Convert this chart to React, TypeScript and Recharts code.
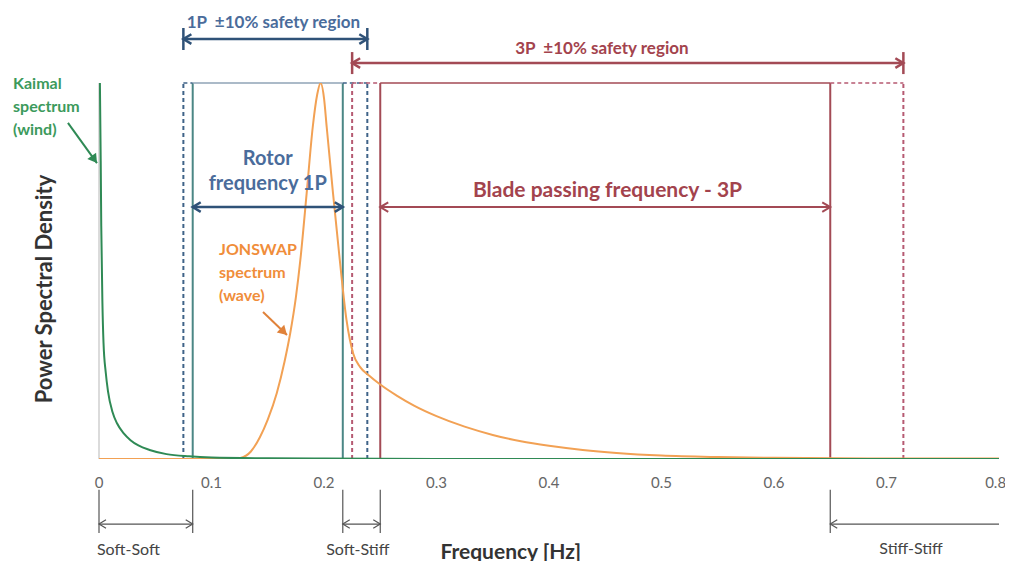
import React from "react";
import { LineChart, Line, XAxis, YAxis, ReferenceLine, ReferenceDot } from "recharts";

// frequency [Hz] vs normalised PSD
const kaimal = [
  { f: 0, v: 1.0 },
  { f: 0.0008, v: 1.0 },
  { f: 0.002, v: 0.62 },
  { f: 0.003, v: 0.42 },
  { f: 0.004, v: 0.31 },
  { f: 0.006, v: 0.23 },
  { f: 0.008, v: 0.18 },
  { f: 0.012, v: 0.125 },
  { f: 0.016, v: 0.095 },
  { f: 0.022, v: 0.068 },
  { f: 0.028, v: 0.05 },
  { f: 0.035, v: 0.036 },
  { f: 0.045, v: 0.024 },
  { f: 0.06, v: 0.013 },
  { f: 0.08, v: 0.007 },
  { f: 0.1, v: 0.004 },
  { f: 0.15, v: 0.002 },
  { f: 0.2, v: 0.001 },
  { f: 0.3, v: 0 },
  { f: 0.8, v: 0 },
];

const jonswap = [
  { f: 0, v: 0 },
  { f: 0.12, v: 0 },
  { f: 0.125, v: 0.002 },
  { f: 0.135, v: 0.02 },
  { f: 0.143, v: 0.058 },
  { f: 0.15, v: 0.105 },
  { f: 0.158, v: 0.175 },
  { f: 0.165, v: 0.26 },
  { f: 0.17, v: 0.335 },
  { f: 0.175, v: 0.43 },
  { f: 0.179, v: 0.53 },
  { f: 0.1846, v: 0.707 },
  { f: 0.19, v: 0.883 },
  { f: 0.194, v: 0.97 },
  { f: 0.197, v: 1.0 },
  { f: 0.2, v: 0.96 },
  { f: 0.2024, v: 0.883 },
  { f: 0.208, v: 0.707 },
  { f: 0.214, v: 0.53 },
  { f: 0.22, v: 0.37 },
  { f: 0.226, v: 0.28 },
  { f: 0.232, v: 0.245 },
  { f: 0.24, v: 0.222 },
  { f: 0.25, v: 0.198 },
  { f: 0.265, v: 0.168 },
  { f: 0.28, v: 0.142 },
  { f: 0.3, v: 0.114 },
  { f: 0.325, v: 0.086 },
  { f: 0.35, v: 0.064 },
  { f: 0.375, v: 0.047 },
  { f: 0.4, v: 0.035 },
  { f: 0.43, v: 0.024 },
  { f: 0.46, v: 0.016 },
  { f: 0.5, v: 0.009 },
  { f: 0.55, v: 0.005 },
  { f: 0.6, v: 0.003 },
  { f: 0.7, v: 0.0015 },
  { f: 0.8, v: 0.001 },
];

const xTicks = [0, 0.1, 0.2, 0.3, 0.4, 0.5, 0.6, 0.7, 0.8];

const oneP = [0.0833, 0.2167];
const onePSafety = [0.075, 0.2385];
const threeP = [0.25, 0.65];
const threePSafety = [0.225, 0.715];

const FONT = "Lato, 'Open Sans', sans-serif";
const NAVY = "#2f5278";
const BLUE_TXT = "#4a6c9b";
const TEAL = "#4b8785";
const BLUE_DASH = "#3f6388";
const RED = "#a34a55";
const RED_DASH = "#b65a72";
const RED_TXT = "#a3434d";
const GREEN = "#2f8a55";
const ORANGE = "#f2a154";
const GRAY = "#555";

type ArrowOpts = {
  color: string;
  width?: number;
  start?: boolean;
  end?: boolean;
  bar?: number;
  solidHead?: boolean;
  size?: number;
};

function arrowShape(o: ArrowOpts) {
  return (p: any) => {
    const { x1, y1, x2, y2 } = p;
    const w = o.width ?? 2;
    const s = o.size ?? 8;
    const dx = x2 - x1;
    const dy = y2 - y1;
    const len = Math.hypot(dx, dy) || 1;
    const ux = dx / len;
    const uy = dy / len;
    const nx = -uy;
    const ny = ux;
    const head = (tx: number, ty: number, dir: number) => {
      const bx = tx - dir * ux * s;
      const by = ty - dir * uy * s;
      const a = `${bx + nx * s * 0.6},${by + ny * s * 0.6}`;
      const b = `${bx - nx * s * 0.6},${by - ny * s * 0.6}`;
      return o.solidHead ? (
        <polygon points={`${a} ${tx},${ty} ${b}`} fill={o.color} />
      ) : (
        <polyline points={`${a} ${tx},${ty} ${b}`} fill="none" stroke={o.color} strokeWidth={w} strokeLinejoin="miter" />
      );
    };
    return (
      <g>
        <line x1={x1} y1={y1} x2={x2} y2={y2} stroke={o.color} strokeWidth={w} />
        {o.start && head(x1, y1, -1)}
        {o.end && head(x2, y2, 1)}
        {o.bar ? (
          <>
            <line x1={x1} y1={y1 - o.bar} x2={x1} y2={y1 + o.bar} stroke={o.color} strokeWidth={w} />
            <line x1={x2} y1={y2 - o.bar} x2={x2} y2={y2 + o.bar} stroke={o.color} strokeWidth={w} />
          </>
        ) : null}
      </g>
    );
  };
}

function arrow(key: string, a: [number, number], b: [number, number], o: ArrowOpts) {
  return (
    <ReferenceLine
      key={key}
      segment={[{ x: a[0], y: a[1] }, { x: b[0], y: b[1] }]}
      ifOverflow="visible"
      shape={arrowShape(o)}
    />
  );
}

function seg(key: string, a: [number, number], b: [number, number], color: string, width: number, dash?: string) {
  return (
    <ReferenceLine
      key={key}
      segment={[{ x: a[0], y: a[1] }, { x: b[0], y: b[1] }]}
      ifOverflow="visible"
      stroke={color}
      strokeWidth={width}
      strokeDasharray={dash}
    />
  );
}

type NoteOpts = {
  color: string;
  size: number;
  weight?: number | string;
  anchor?: "start" | "middle" | "end";
  lineGap?: number;
  rotate?: boolean;
};

function note(key: string, x: number, y: number, lines: string[], o: NoteOpts) {
  return (
    <ReferenceDot
      key={key}
      x={x}
      y={y}
      r={0}
      ifOverflow="visible"
      shape={(p: any) => (
        <text
          x={p.cx}
          y={p.cy}
          transform={o.rotate ? `rotate(-90 ${p.cx} ${p.cy})` : undefined}
          fill={o.color}
          fontSize={o.size}
          fontWeight={o.weight ?? "bold"}
          fontFamily={FONT}
          textAnchor={o.anchor ?? "middle"}
          dominantBaseline="central"
        >
          {lines.map((t, i) => (
            <tspan key={i} x={p.cx} dy={i === 0 ? 0 : o.lineGap ?? 23}>
              {t}
            </tspan>
          ))}
        </text>
      )}
    />
  );
}

export default function App() {
  return (
    <div style={{ width: 997, height: 553, background: "#fff" }}>
      <LineChart width={997} height={553} margin={{ top: 75, right: 6, left: 91, bottom: 72 }}>
        <XAxis
          dataKey="f"
          type="number"
          domain={[0, 0.8]}
          ticks={xTicks}
          tickFormatter={(v: number) => (v === 0 ? "0" : String(v))}
          axisLine={false}
          tickLine={false}
          tickMargin={12}
          height={30}
          tick={{ fill: "#666", fontSize: 15, fontFamily: FONT }}
          allowDataOverflow
        />
        <YAxis type="number" domain={[0, 1]} hide allowDataOverflow />

        <ReferenceLine x={0} stroke="#cfcfcf" strokeWidth={1.5} />

        {/* 1P and 3P lines */}
        {onePSafety.map((f, i) => (
          <ReferenceLine key={`ops${i}`} x={f} stroke={BLUE_DASH} strokeWidth={2} strokeDasharray="4 3" />
        ))}
        {oneP.map((f, i) => (
          <ReferenceLine key={`op${i}`} x={f} stroke={TEAL} strokeWidth={2} />
        ))}
        {threePSafety.map((f, i) => (
          <ReferenceLine key={`tps${i}`} x={f} stroke={RED_DASH} strokeWidth={2} strokeDasharray="4 3" />
        ))}
        {threeP.map((f, i) => (
          <ReferenceLine key={`tp${i}`} x={f} stroke={RED} strokeWidth={2} />
        ))}

        {/* box tops */}
        {seg("bt1", [onePSafety[0], 1], [oneP[0], 1], BLUE_DASH, 1.5, "4 3")}
        {seg("bt2", [oneP[0], 1], [oneP[1], 1], "#8fa3b6", 1.5)}
        {seg("bt3", [oneP[1], 1], [onePSafety[1], 1], BLUE_DASH, 1.5, "4 3")}
        {seg("rt1", [threePSafety[0], 1], [threeP[0], 1], RED_DASH, 1.5, "4 3")}
        {seg("rt2", [threeP[0], 1], [threeP[1], 1], RED, 1.5)}
        {seg("rt3", [threeP[1], 1], [threePSafety[1], 1], RED_DASH, 1.5, "4 3")}

        <Line
          data={jonswap}
          dataKey="v"
          type="monotone"
          stroke={ORANGE}
          strokeWidth={2}
          dot={false}
          activeDot={false}
          isAnimationActive={false}
        />
        <Line
          data={kaimal}
          dataKey="v"
          type="monotone"
          stroke={GREEN}
          strokeWidth={2}
          dot={false}
          activeDot={false}
          isAnimationActive={false}
        />

        {/* top safety arrows */}
        {arrow("a1p", [onePSafety[0], 1.117], [onePSafety[1], 1.117], { color: NAVY, width: 2.5, start: true, end: true, bar: 11 })}
        {arrow("a3p", [threePSafety[0], 1.053], [threePSafety[1], 1.053], { color: RED, width: 2.5, start: true, end: true, bar: 11 })}
        {note("t1p", 0.155, 1.165, ["1P\u00a0\u00a0\u00b110% safety region"], { color: BLUE_TXT, size: 17 })}
        {note("t3p", 0.447, 1.096, ["3P\u00a0\u00a0\u00b110% safety region"], { color: RED_TXT, size: 17 })}

        {/* inner arrows */}
        {arrow("ar", [oneP[0], 0.67], [oneP[1], 0.67], { color: NAVY, width: 2.5, start: true, end: true })}
        {arrow("ab", [threeP[0], 0.67], [threeP[1], 0.67], { color: RED, width: 2, start: true, end: true })}
        {note("trot", 0.15, 0.803, ["Rotor", "frequency 1P"], { color: BLUE_TXT, size: 20, lineGap: 25 })}
        {note("tblade", 0.452, 0.721, ["Blade passing frequency - 3P"], { color: RED_TXT, size: 21 })}

        {/* spectrum labels */}
        {note("tk", -0.0764, 1.003, ["Kaimal", "spectrum", "(wind)"], { color: "#3c9a5c", size: 16, anchor: "start" })}
        {arrow("ak", [-0.0276, 0.894], [-0.0018, 0.787], { color: GREEN, width: 2, end: true, solidHead: true, size: 9 })}
        {note("tj", 0.1067, 0.561, ["JONSWAP", "spectrum", "(wave)"], { color: "#f08d3a", size: 16, anchor: "start" })}
        {arrow("aj", [0.1458, 0.391], [0.1671, 0.33], { color: "#e0823a", width: 2, end: true, solidHead: true, size: 9 })}

        {/* axis titles */}
        {note("ty", -0.0498, 0.452, ["Power Spectral Density"], { color: "#333", size: 22, rotate: true })}
        {note("tx", 0.366, -0.242, ["Frequency [Hz]"], { color: "#333", size: 21 })}

        {/* stiffness brackets */}
        {seg("b1", [0, -0.082], [0, -0.197], GRAY, 1.2)}
        {seg("b2", [oneP[0], -0.082], [oneP[0], -0.197], GRAY, 1.2)}
        {arrow("bs", [0, -0.173], [oneP[0], -0.173], { color: GRAY, width: 1.2, start: true, end: true, size: 7 })}
        {note("tss", -0.0018, -0.237, ["Soft-Soft"], { color: "#444", size: 16, weight: "normal", anchor: "start" })}

        {seg("b3", [oneP[1], -0.082], [oneP[1], -0.197], GRAY, 1.2)}
        {seg("b4", [threeP[0], -0.082], [threeP[0], -0.197], GRAY, 1.2)}
        {arrow("bst", [oneP[1], -0.173], [threeP[0], -0.173], { color: GRAY, width: 1.2, start: true, end: true, size: 7 })}
        {note("tst", 0.23, -0.237, ["Soft-Stiff"], { color: "#444", size: 16, weight: "normal" })}

        {seg("b5", [threeP[1], -0.082], [threeP[1], -0.197], GRAY, 1.2)}
        {arrow("bsf", [threeP[1], -0.173], [0.8, -0.173], { color: GRAY, width: 1.2, start: true, size: 7 })}
        {note("tsf", 0.7218, -0.235, ["Stiff-Stiff"], { color: "#444", size: 16, weight: "normal" })}
      </LineChart>
    </div>
  );
}
